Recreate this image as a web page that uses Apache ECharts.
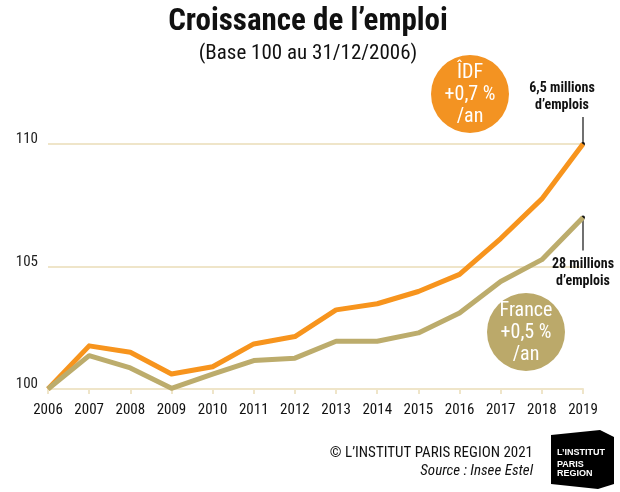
<!DOCTYPE html>
<html>
<head>
<meta charset="utf-8">
<script src="https://cdn.jsdelivr.net/npm/echarts@6/dist/echarts.min.js"></script>
<style>
  html, body { margin: 0; padding: 0; background: #fff; }
  #chart { width: 620px; height: 492px; }
</style>
</head>
<body>
<div id="chart"></div>
<script>
// Indice de l'emploi, base 100 au 31/12/2006
const years = ['2006','2007','2008','2009','2010','2011','2012','2013','2014','2015','2016','2017','2018','2019'];
const idf =    [100, 101.76, 101.5, 100.61, 100.91, 101.84, 102.14, 103.23, 103.48, 103.98, 104.68, 106.14, 107.76, 110.0];
const france = [100, 101.36, 100.86, 100.03, 100.61, 101.16, 101.26, 101.95, 101.95, 102.29, 103.10, 104.39, 105.28, 107.0];
const yTicks = [100, 105, 110];

const FONT = '"Liberation Sans Narrow", "Arial Narrow", "Roboto Condensed", "Liberation Sans", sans-serif';
const ORANGE = '#f7941d';
const TAN = '#bcac6c';
const GRID = '#efe5c9';

const chart = echarts.init(document.getElementById('chart'), null, { renderer: 'canvas' });

chart.setOption({
  animation: false,
  backgroundColor: '#ffffff',
  textStyle: { fontFamily: FONT },
  title: [
    {
      text: 'Croissance de l\u2019emploi',
      left: 303, top: 2, textAlign: 'center',
      textStyle: { fontFamily: FONT, fontSize: 31, fontWeight: 'bold', color: '#111' }
    },
    {
      text: '(Base 100 au 31/12/2006)',
      left: 303, top: 38, textAlign: 'center',
      textStyle: { fontFamily: FONT, fontSize: 21, fontWeight: 'normal', color: '#111' }
    }
  ],
  grid: { left: 48, right: 37, top: 144, bottom: 103, containLabel: false },
  xAxis: {
    type: 'category',
    data: years,
    boundaryGap: false,
    axisLine: { lineStyle: { color: GRID, width: 2 } },
    axisTick: { show: true, alignWithLabel: true, length: 5, lineStyle: { color: GRID, width: 2 } },
    axisLabel: { color: '#111', fontSize: 15, fontFamily: FONT, margin: 14 },
    splitLine: { show: false }
  },
  yAxis: {
    type: 'value',
    min: yTicks[0], max: yTicks[yTicks.length - 1], interval: 5,
    axisLine: { show: false },
    axisTick: { show: false },
    axisLabel: { color: '#222', fontSize: 15, fontFamily: FONT, margin: 10, verticalAlign: 'bottom', lineHeight: 9 },
    splitLine: { lineStyle: { color: GRID, width: 2 } }
  },
  series: [
    {
      name: 'ÎDF', type: 'line', data: idf, symbol: 'none', clip: false,
      lineStyle: { color: ORANGE, width: 5, join: 'round' }, z: 3
    },
    {
      name: 'France', type: 'line', data: france, symbol: 'none', clip: false,
      lineStyle: { color: TAN, width: 5, join: 'round' }, z: 4
    }
  ]
});

// Annotations: growth bubbles, end-point pointers, credits and logo
const last = years.length - 1;
const pIdf = chart.convertToPixel({ seriesIndex: 0 }, [last, idf[last]]);
const pFr = chart.convertToPixel({ seriesIndex: 1 }, [last, france[last]]);

function bubble(cx, cy, r, color, lines) {
  return {
    type: 'group', z: 10,
    children: [
      { type: 'circle', shape: { cx: cx, cy: cy, r: r }, style: { fill: color } },
      {
        type: 'text', x: cx, y: cy + 1,
        style: {
          text: lines.join('\n'), fill: '#fff', fontFamily: FONT, fontSize: 20,
          lineHeight: 22, align: 'center', verticalAlign: 'middle'
        }
      }
    ]
  };
}

function pointer(p, dir, len, textLines, textX, textY) {
  return {
    type: 'group', z: 12,
    children: [
      { type: 'line', shape: { x1: p[0], y1: p[1], x2: p[0], y2: p[1] + dir * len }, style: { stroke: '#111', lineWidth: 1.2 } },
      { type: 'circle', shape: { cx: p[0], cy: p[1], r: 2 }, style: { fill: '#111' } },
      {
        type: 'text', x: textX, y: textY,
        style: {
          text: textLines.join('\n'), fill: '#111', fontFamily: FONT, fontSize: 14, fontWeight: 'bold',
          lineHeight: 17, align: 'center', verticalAlign: 'top'
        }
      }
    ]
  };
}

chart.setOption({
  graphic: [
    bubble(470, 94, 39, '#f39322', ['ÎDF', '+0,7 %', '/an']),
    bubble(526, 332, 39, '#bba96a', ['France', '+0,5 %', '/an']),
    pointer(pIdf, -1, 27, ['6,5 millions', 'd\u2019emplois'], pIdf[0] - 21, 80),
    pointer(pFr, 1, 33, ['28 millions', 'd\u2019emplois'], pFr[0], 256),
    {
      type: 'text', x: 533, y: 446, z: 10,
      style: { text: '\u00a9 L\u2019INSTITUT PARIS REGION 2021', fill: '#111', fontFamily: FONT, fontSize: 15, align: 'right' }
    },
    {
      type: 'text', x: 533, y: 464, z: 10,
      style: { text: 'Source : Insee Estel', fill: '#111', fontFamily: FONT, fontSize: 15, fontStyle: 'italic', align: 'right' }
    },
    {
      type: 'group', z: 10,
      children: [
        { type: 'polygon', shape: { points: [[551, 435], [600, 430], [614, 437], [614, 484], [598, 489], [551, 484]] }, style: { fill: '#000' } },
        {
          type: 'text', x: 557, y: 448,
          style: { text: 'L\u2019INSTITUT', fill: '#fff', fontFamily: '"Liberation Sans", sans-serif', fontSize: 9, fontWeight: 'bold' }
        },
        {
          type: 'text', x: 557, y: 460,
          style: { text: 'PARIS\nREGION', fill: '#fff', fontFamily: '"Liberation Sans", sans-serif', fontSize: 9, fontWeight: 'bold', lineHeight: 9 }
        }
      ]
    }
  ]
});
</script>
</body>
</html>
